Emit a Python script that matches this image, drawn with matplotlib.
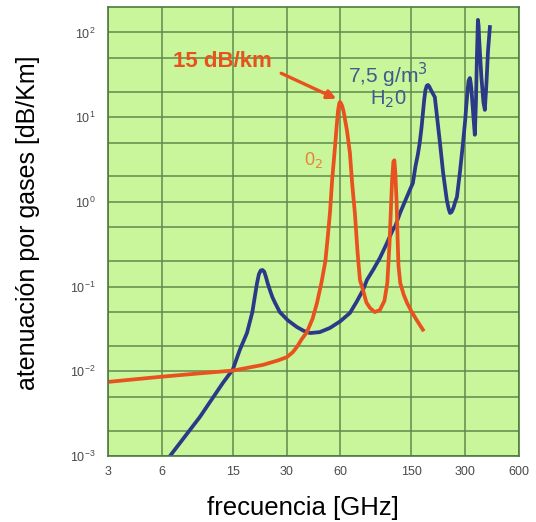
# -*- coding: utf-8 -*-

import matplotlib
matplotlib.use('Agg')
import matplotlib.pyplot as plt

# attenuation curves (GHz, dB/km)
o2_freq = [3, 5.87, 10, 15, 22.1, 27, 30.1, 32.5, 34.3, 36.5, 39, 42, 44.4,
           47, 49.5, 51, 52.5, 54, 56, 57.3, 58.3, 59.2, 59.7, 60.3, 61.5,
           62.7, 63.7, 65.5, 67.9, 70, 72.4, 75, 77.3, 80.4, 84, 88, 93.6,
           100, 106, 110, 113, 115, 117, 119, 120.5, 122, 124, 125.5, 127,
           130, 136, 142, 151, 161, 174]
o2_att = [0.0075, 0.0086, 0.0095, 0.0102, 0.0119, 0.0135, 0.0147, 0.0168,
          0.0194, 0.024, 0.029, 0.042, 0.064, 0.11, 0.2, 0.38, 0.74, 1.8,
          4.4, 8, 12, 14.6, 15.1, 14.8, 13.5, 11.5, 9.5, 6.8, 3.8, 1.6,
          0.74, 0.25, 0.12, 0.091, 0.065, 0.056, 0.050, 0.053, 0.068, 0.11,
          0.3, 0.74, 1.8, 3.0, 3.1, 2.2, 1.0, 0.4, 0.18, 0.11, 0.08, 0.064,
          0.05, 0.040, 0.031]

h2o_freq = [6.67, 9.82, 13.2, 15, 16.4, 18.0, 19.3, 20.0, 20.5, 21.0, 21.5,
            22.0, 22.5, 23.0, 23.5, 24.2, 25.0, 25.8, 27.5, 30.5, 34.3, 37.5,
            40.6, 46, 52.5, 60, 67.9, 74, 80.4, 84.6, 92, 100, 109, 118, 122,
            130, 147, 153, 158, 163, 167, 171, 174, 177, 180, 183, 186, 189,
            193, 198, 203, 208, 213, 217, 226, 237, 243, 247, 252, 258, 264,
            270, 281, 292, 300, 305, 310, 314, 319, 322, 325, 333, 340, 345,
            350, 354, 357, 360, 370, 380, 387, 395, 403, 413]
h2o_att = [0.001, 0.0029, 0.0073, 0.0105, 0.0178, 0.0283, 0.05, 0.08, 0.11,
           0.14, 0.155, 0.157, 0.15, 0.13, 0.11, 0.091, 0.075, 0.065, 0.050,
           0.040, 0.0333, 0.030, 0.0283, 0.029, 0.0325, 0.039, 0.0488,
           0.066, 0.091, 0.120, 0.16, 0.218, 0.32, 0.466, 0.52, 0.75, 1.38,
           1.67, 2.6, 3.6, 4.95, 7.5, 11, 16, 21, 23.5, 24, 23, 21, 19,
           17.3, 11, 7, 4.95, 2.2, 1.05, 0.82, 0.74, 0.76, 0.85, 1.0, 1.14,
           2.3, 4.95, 9, 14, 21, 27, 29, 26, 22, 11, 6.2, 15, 60, 141, 120,
           80, 30, 15, 12.2, 25, 60, 116]

x_ticks = [3, 6, 15, 30, 60, 150, 300, 600]
y_major = [1e-3, 1e-2, 1e-1, 1e0, 1e1, 1e2]
y_minor = [2e-3, 5e-3, 2e-2, 5e-2, 2e-1, 5e-1, 2, 5, 20, 50]

BG = '#c9f59b'
GRID = '#5f8a4e'
ORANGE = '#e8521e'
BLUE = '#2c3888'

plt.rcParams['font.family'] = ['Liberation Sans', 'DejaVu Sans']

fig = plt.figure(figsize=(5.36, 5.22), dpi=100)
ax = fig.add_axes([0.2015, 0.1264, 0.7665, 0.8602], facecolor=BG)
ax.set_xscale('log')
ax.set_yscale('log')
ax.set_xlim(3, 600)
ax.set_ylim(1e-3, 200)

ax.set_xticks(x_ticks)
ax.set_xticklabels([str(t) for t in x_ticks])
ax.set_xticks([], minor=True)
ax.set_yticks(y_major)
ax.set_yticks(y_minor, minor=True)
ax.set_yticklabels([], minor=True)
ax.tick_params(which='both', length=0, colors='#4a4a4a', labelsize=9)
ax.tick_params(axis='x', pad=7)
ax.tick_params(axis='y', pad=9)

ax.grid(True, which='major', color=GRID, lw=1.1)
ax.grid(True, which='minor', axis='y', color=GRID, lw=1.1)
ax.set_axisbelow(True)
for sp in ax.spines.values():
    sp.set_color('#4d7a40')
    sp.set_linewidth(1.2)

ax.plot(h2o_freq, h2o_att, color=BLUE, lw=2.7, solid_joinstyle='round')
ax.plot(o2_freq, o2_att, color=ORANGE, lw=2.7, solid_joinstyle='round')

# annotations
ax.text(13.1, 45, '15 dB/km', color=ORANGE, fontsize=16, fontweight='bold',
        ha='center', va='center')
ax.annotate('', xy=(57, 16.5), xytext=(28, 33),
            arrowprops=dict(arrowstyle='-|>', color=ORANGE, lw=2.4,
                            mutation_scale=13, shrinkA=0, shrinkB=0))
ax.text(42.7, 3.1, '0$_2$', color='#e8843a', fontsize=13,
        ha='center', va='center')
ax.text(111, 31.5, '7,5 g/m$^3$', color='#3f5a8e', fontsize=15,
        ha='center', va='center')
ax.text(111, 16.4, 'H$_2$0', color='#3f5a8e', fontsize=14.5,
        ha='center', va='center')

ax.set_xlabel('frecuencia [GHz]', fontsize=18.5)
ax.xaxis.set_label_coords(0.475, -0.09)
ax.set_ylabel('atenuación por gases [dB/Km]', fontsize=18)
ax.yaxis.set_label_coords(-0.165, 0.52)

fig.savefig('out.png', dpi=100)
